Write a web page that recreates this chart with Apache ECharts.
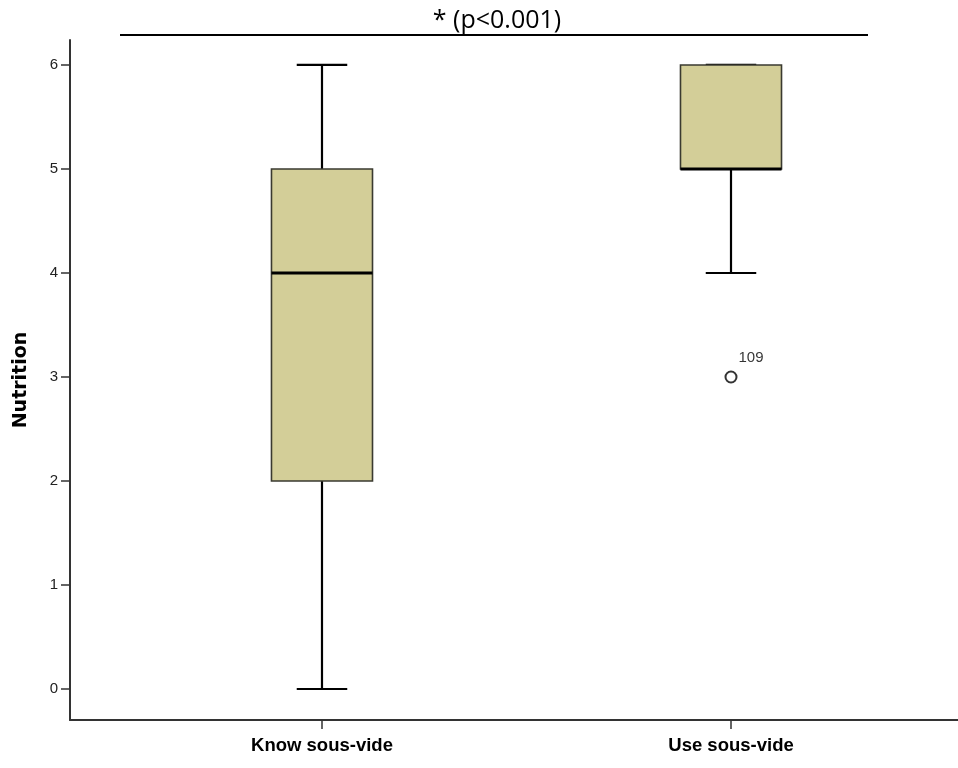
<!DOCTYPE html>
<html>
<head>
<meta charset="utf-8">
<script src="https://cdn.jsdelivr.net/npm/echarts@6/dist/echarts.min.js"></script>
<style>html,body{margin:0;padding:0;background:#fff;}#c{width:958px;height:768px;}</style>
</head>
<body>
<div id="c"></div>
<script>
// Data
var categories = ['Know sous-vide', 'Use sous-vide'];
var positions = [1, 2];
var mins = [0, 4];
var q1s = [2, 5];
var medians = [4, 5];
var q3s = [5, 6];
var maxs = [6, 6];
var outliers = [[2, 3, '109']];
var yTicks = [0, 1, 2, 3, 4, 5, 6];
var titleText = '* (p<0.001)';
var yName = 'Nutrition';

var boxData = positions.map(function (p, i) {
  return [p, mins[i], q1s[i], medians[i], q3s[i], maxs[i]];
});

var chart = echarts.init(document.getElementById('c'), null, {renderer: 'canvas'});

function renderBox(params, api) {
  var x = api.value(0);
  var pMin = api.coord([x, api.value(1)]);
  var pQ1 = api.coord([x, api.value(2)]);
  var pMed = api.coord([x, api.value(3)]);
  var pQ3 = api.coord([x, api.value(4)]);
  var pMax = api.coord([x, api.value(5)]);
  var bw = api.size([0.247, 0])[0];
  var cw = bw / 2;
  var cx = pMed[0];
  var black = '#000';
  return {
    type: 'group',
    children: [
      {type: 'line', shape: {x1: cx, y1: pMax[1], x2: cx, y2: pQ3[1]}, style: {stroke: black, lineWidth: 2.2}},
      {type: 'line', shape: {x1: cx, y1: pQ1[1], x2: cx, y2: pMin[1]}, style: {stroke: black, lineWidth: 2.2}},
      {type: 'line', shape: {x1: cx - cw / 2, y1: pMax[1], x2: cx + cw / 2, y2: pMax[1]}, style: {stroke: black, lineWidth: 2.2}},
      {type: 'line', shape: {x1: cx - cw / 2, y1: pMin[1], x2: cx + cw / 2, y2: pMin[1]}, style: {stroke: black, lineWidth: 2.2}},
      {type: 'rect', shape: {x: cx - bw / 2, y: pQ3[1], width: bw, height: pQ1[1] - pQ3[1]},
        style: {fill: '#d3ce98', stroke: '#3a3a30', lineWidth: 1.6}},
      {type: 'line', shape: {x1: cx - bw / 2, y1: pMed[1], x2: cx + bw / 2, y2: pMed[1]}, style: {stroke: black, lineWidth: 3}}
    ]
  };
}

var option = {
  backgroundColor: '#fff',
  animation: false,
  grid: {left: 70, right: 0, top: 40, bottom: 48},
  graphic: [
    {type: 'line', shape: {x1: 120, y1: 35, x2: 868, y2: 35}, style: {stroke: '#000', lineWidth: 2}, z: 10},
    {type: 'text', x: 497, y: 21, style: {text: titleText, font: '25px "Open Sans", Lato, sans-serif', fill: '#000', align: 'center', verticalAlign: 'middle'}, z: 10}
  ],
  xAxis: {
    type: 'value',
    min: 0.3839,
    max: 2.555,
    splitLine: {show: false},
    axisLine: {show: true, onZero: false, lineStyle: {color: '#333', width: 2}},
    axisTick: {show: true, customValues: positions, length: 9, lineStyle: {color: '#333', width: 1.5}},
    axisLabel: {
      customValues: positions,
      formatter: function (v) { var i = positions.indexOf(v); return i >= 0 ? categories[i] : ''; },
      fontFamily: '"Liberation Sans", Arial, sans-serif',
      fontWeight: 'bold', fontSize: 18.5, color: '#000', margin: 16
    }
  },
  yAxis: {
    type: 'value',
    min: -0.298,
    max: 6.24,
    name: yName,
    nameLocation: 'middle',
    nameGap: 39,
    nameTextStyle: {fontFamily: '"DejaVu Sans", Verdana, sans-serif', fontWeight: 'bold', fontSize: 19, color: '#000'},
    splitLine: {show: false},
    axisLine: {show: true, onZero: false, lineStyle: {color: '#333', width: 2}},
    axisTick: {show: true, customValues: yTicks, length: 9, lineStyle: {color: '#333', width: 1.5}},
    axisLabel: {customValues: yTicks, fontFamily: '"Liberation Sans", Arial, sans-serif', fontSize: 15, color: '#222', margin: 12}
  },
  series: [
    {
      type: 'custom',
      renderItem: renderBox,
      data: boxData,
      encode: {x: 0, y: [1, 2, 3, 4, 5]},
      z: 2
    },
    {
      type: 'scatter',
      data: outliers.map(function (o) { return {value: [o[0], o[1]], name: o[2]}; }),
      symbol: 'emptyCircle',
      symbolSize: 11,
      itemStyle: {color: '#000', borderColor: '#000', borderWidth: 1.6},
      label: {show: true, formatter: '{b}', position: 'right', offset: [0, -19], distance: 1,
        fontFamily: '"Liberation Sans", Arial, sans-serif', fontSize: 15, color: '#000'},
      z: 3
    }
  ]
};
chart.setOption(option);
</script>
</body>
</html>
